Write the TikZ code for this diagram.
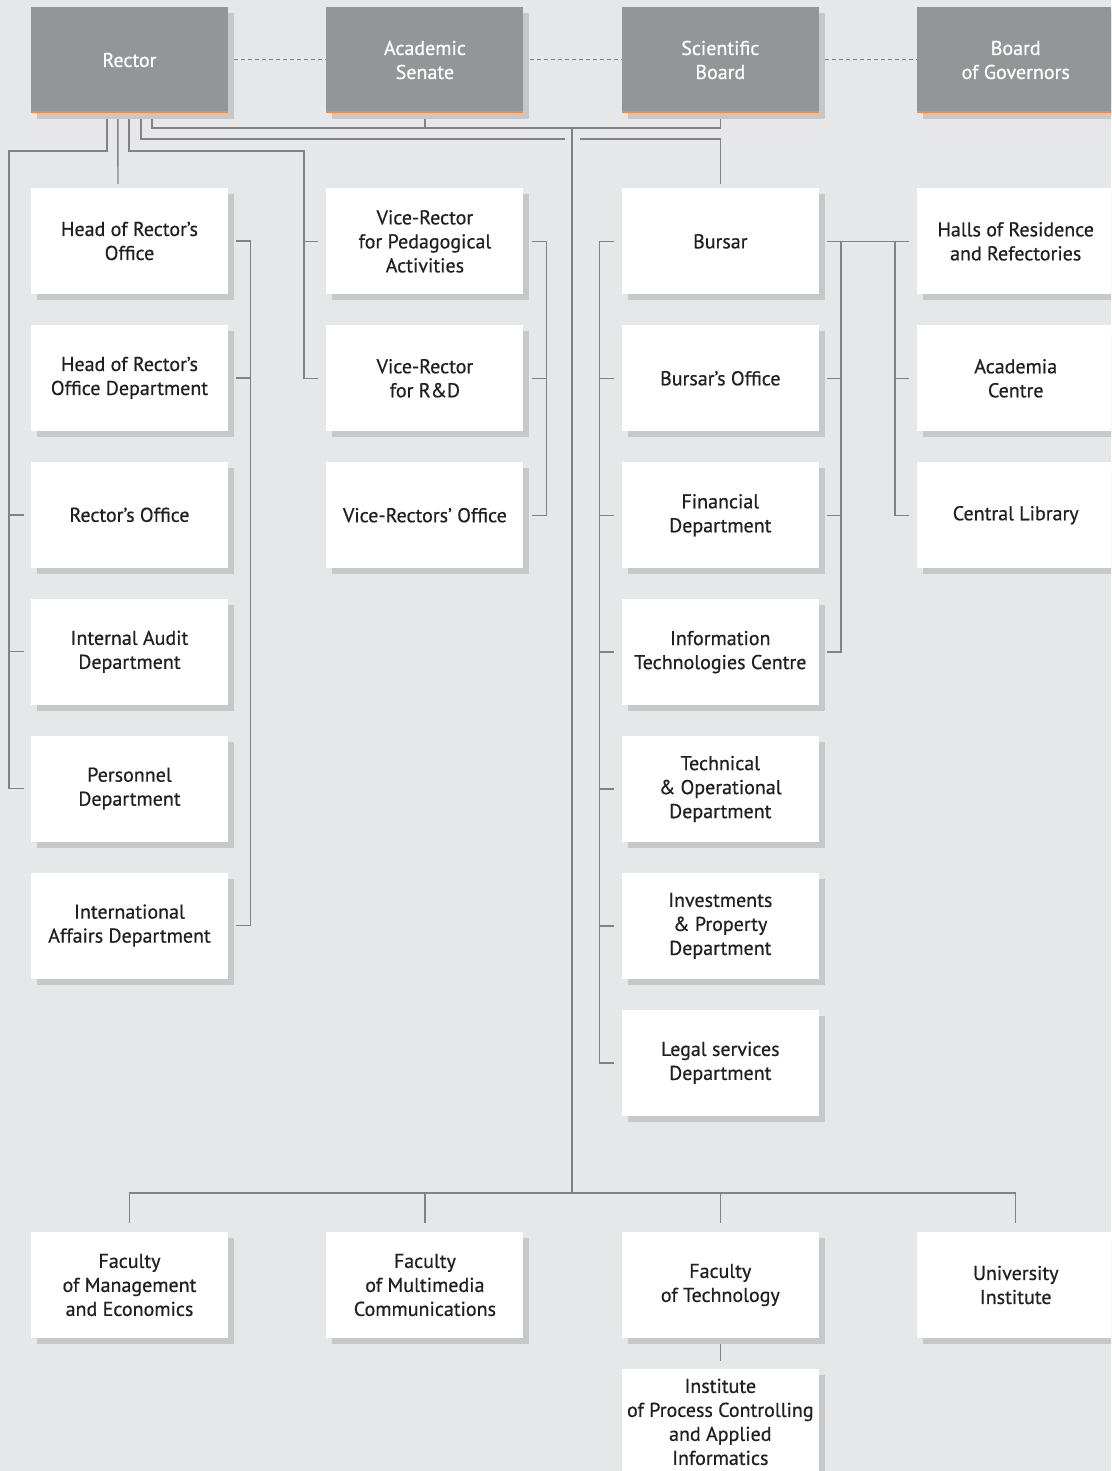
\documentclass[tikz,border=0pt]{standalone}
\usepackage{fontspec}
\setmainfont{PT Sans}
\newfontfamily\unitfont{PT Sans}[BoldFont={PT Sans},BoldFeatures={FakeBold=0.6}]
\usetikzlibrary{positioning,shadows}

\definecolor{bggrey}{HTML}{E6E7E8}
\definecolor{topgrey}{HTML}{939598}
\definecolor{shadegrey}{HTML}{C7C8CA}
\definecolor{linegrey}{HTML}{808285}
\definecolor{orangeline}{HTML}{F58A3F}
\definecolor{textdark}{HTML}{231F20}

\begin{document}
\begin{tikzpicture}[x=1pt,y=-1pt,node distance=30.5pt,
    conn/.style={draw=linegrey,line width=1.4pt},
    dashline/.style={draw=linegrey,line width=1pt,dash pattern=on 4pt off 3pt}]
  \tikzstyle{unit}=[fill=white,text=textdark,minimum width=197pt,minimum height=106pt,
    inner sep=0pt,align=center,font=\unitfont\bfseries\fontsize{20}{24}\selectfont,
    general shadow={fill=shadegrey,shadow xshift=6pt,shadow yshift=-6pt}]
  \tikzstyle{head}=[unit,fill=topgrey,text=white,
    path picture={\draw[orangeline,line width=3pt] (path picture bounding box.south west) -- (path picture bounding box.south east);}]

  \clip (0,0) rectangle (1111,1471);
  \fill[bggrey] (0,0) rectangle (1111,1471);

  % governing bodies
  \node[head] (rector)    at (129.5,60)          {Rector};
  \node[head] (senate)    [right=98pt of rector] {Academic\\Senate};
  \node[head] (sciboard)  [right=98pt of senate] {Scientific\\Board};
  \node[head] (governors) [right=98pt of sciboard] {Board\\of Governors};

  % rector's units
  \node[unit] (hro)       at (129.5,241)     {Head of Rector’s\\Office};
  \node[unit] (hrod)      [below=of hro]     {Head of Rector’s\\Office Department};
  \node[unit] (rof)       [below=of hrod]    {Rector’s Office};
  \node[unit] (audit)     [below=of rof]     {Internal Audit\\Department};
  \node[unit] (personnel) [below=of audit]   {Personnel\\Department};
  \node[unit] (intl)      [below=of personnel] {International\\Affairs Department};

  \node[unit] (vrped)     [below=75pt of senate] {Vice-Rector\\for Pedagogical\\Activities};
  \node[unit] (vrrd)      [below=of vrped]   {Vice-Rector\\for R\&D};
  \node[unit] (vroff)     [below=of vrrd]    {Vice-Rectors’ Office};

  \node[unit] (bursar)    [below=75pt of sciboard] {Bursar};
  \node[unit] (bof)       [below=of bursar]  {Bursar’s Office};
  \node[unit] (fin)       [below=of bof]     {Financial\\Department};
  \node[unit] (itc)       [below=of fin]     {Information\\Technologies Centre};
  \node[unit] (tech)      [below=of itc]     {Technical\\\& Operational\\Department};
  \node[unit] (invest)    [below=of tech]    {Investments\\\& Property\\Department};
  \node[unit] (legal)     [below=of invest]  {Legal services\\Department};

  \node[unit] (halls)     [below=75pt of governors] {Halls of Residence\\and Refectories};
  \node[unit] (academia)  [below=of halls]   {Academia\\Centre};
  \node[unit] (library)   [below=of academia] {Central Library};

  % faculties
  \node[unit] (fme)       at (129.5,1285)    {Faculty\\of Management\\and Economics};
  \node[unit] (fmc)       [right=98pt of fme] {Faculty\\of Multimedia\\Communications};
  \node[unit] (ftech)     [right=98pt of fmc] {Faculty\\of Technology};
  \node[unit] (uni)       [right=98pt of ftech] {University\\Institute};
  \node[unit] (inst)      [below=of ftech]   {Institute\\of Process Controlling\\and Applied\\Informatics};

  \coordinate (rb)       at ([yshift=-6pt]rector.south west);
  \coordinate (lsp)      at (9,151);
  \coordinate (vsp)      at (304,151);
  \coordinate (trunktop) at (572,128);
  \coordinate (trunkbot) at (572,1193);
  \coordinate (hopl)     at (565,139);
  \coordinate (hopr)     at (580,139);

  % top row
  \draw[dashline] ([xshift=6pt]rector.east) -- (senate.west);
  \draw[dashline] ([xshift=6pt]senate.east) -- (sciboard.west);
  \draw[dashline] ([xshift=6pt]sciboard.east) -- (governors.west);

  % from the rector
  \draw[conn] ([xshift=76pt]rb) |- (lsp) |- ([xshift=-7pt]personnel.west);
  \foreach \n in {rof,audit}
    \draw[conn] (lsp |- \n.west) -- ([xshift=-7pt]\n.west);
  \draw[conn] ([xshift=87pt]rb) -- ([xshift=-11.5pt,yshift=4pt]hro.north);
  \draw[conn] ([xshift=98pt]rb) |- (vsp) |- ([xshift=-8pt]vrrd.west);
  \draw[conn] (vsp |- vrped.west) -- ([xshift=-8pt]vrped.west);
  \draw[conn] ([xshift=110pt]rb) |- (hopl);
  \draw[conn] (hopr) -| ([yshift=4pt]bursar.north);
  \draw[conn] ([xshift=121pt]rb) |- (trunktop) -| ([yshift=-6pt]sciboard.south);
  \draw[conn] ([yshift=-6pt]senate.south) -- (senate.south |- trunktop);

  % brackets
  \draw[conn] ([xshift=8pt]hro.east) -| ([xshift=22pt]intl.east) -- ([xshift=8pt]intl.east);
  \draw[conn] ([xshift=8pt]hrod.east) -- ([xshift=22pt]hrod.east);
  \draw[conn] ([xshift=8pt]vrped.east) -| ([xshift=23pt]vroff.east) -- ([xshift=8pt]vroff.east);
  \draw[conn] ([xshift=8pt]vrrd.east) -- ([xshift=23pt]vrrd.east);
  \draw[conn] ([xshift=-8pt]bursar.west) -| ([xshift=-22pt]legal.west) -- ([xshift=-8pt]legal.west);
  \foreach \n in {bof,fin,itc,tech,invest}
    \draw[conn] ([xshift=-8pt]\n.west) -- ([xshift=-22pt]\n.west);

  % bursar
  \draw[conn] ([xshift=8pt]bursar.east) -- ([xshift=-8pt]halls.west);
  \draw[conn] ([xshift=22pt]bursar.east) |- ([xshift=8pt]itc.east);
  \foreach \n in {bof,fin}
    \draw[conn] ([xshift=8pt]\n.east) -- ([xshift=22pt]\n.east);
  \draw[conn] ([xshift=-22pt]halls.west) |- ([xshift=-8pt]library.west);
  \draw[conn] ([xshift=-22pt]academia.west) -- ([xshift=-8pt]academia.west);

  % trunk and faculties
  \draw[conn] (trunktop) -- (trunkbot);
  \draw[conn] ([yshift=9pt]fme.north) |- (trunkbot) -| ([yshift=9pt]uni.north);
  \draw[conn] ([yshift=9pt]fmc.north) -- (fmc.north |- trunkbot);
  \draw[conn] ([yshift=9pt]ftech.north) -- (ftech.north |- trunkbot);
  \draw[conn] ([yshift=-6pt]ftech.south) -- ([yshift=8pt]inst.north);
\end{tikzpicture}
\end{document}
